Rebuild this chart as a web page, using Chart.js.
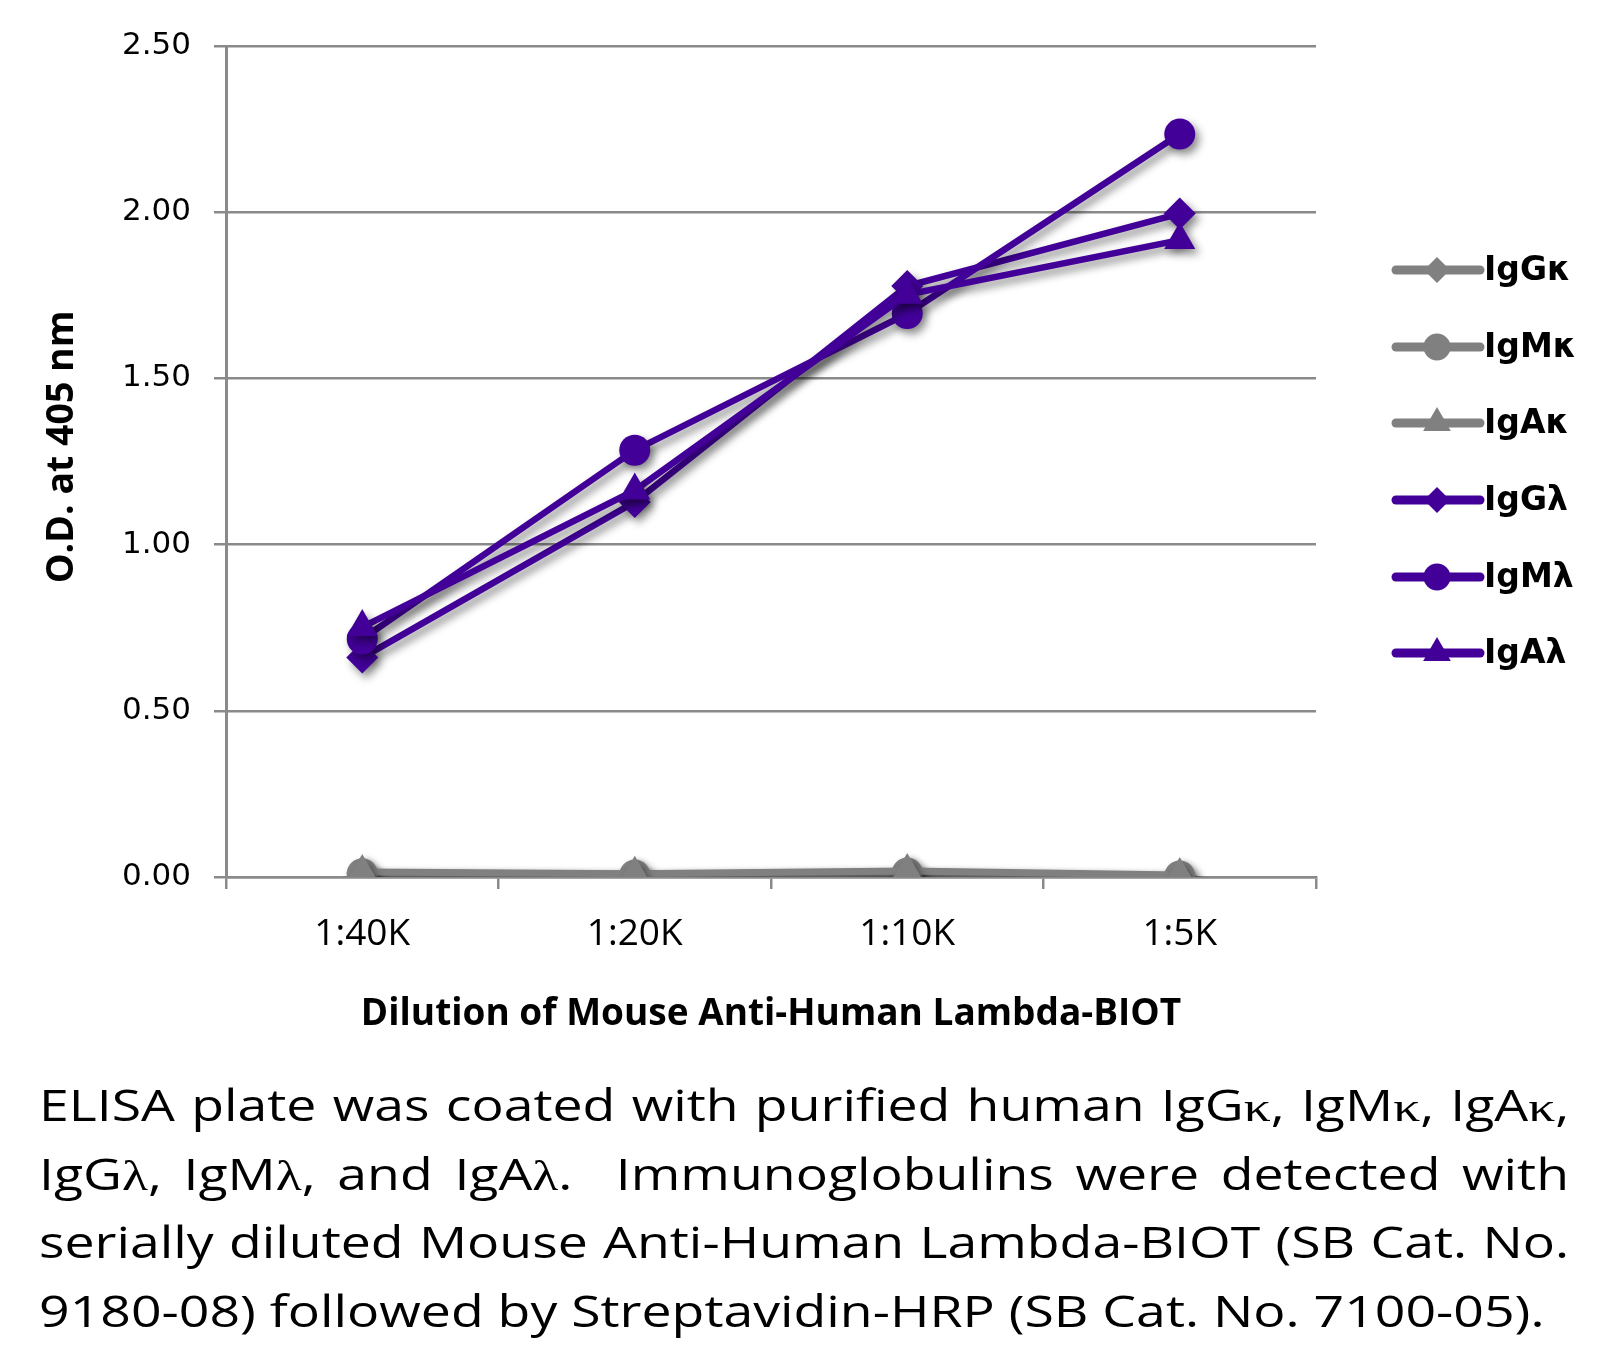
<!DOCTYPE html>
<html lang="en">
<head>
    <title>ELISA - Mouse Anti-Human Lambda-BIOT</title>
    <script src="https://cdn.jsdelivr.net/npm/chart.js"></script>
    <style>
        body { margin: 0; background: #fff; }
        #wrap { position: relative; width: 1608px; height: 1348px; }
        /* the caption font in the picture is wide, so the lines are stretched sideways */
        #caption { position: absolute; left: 39px; top: 1071px; width: 1228px;
                   transform: scaleX(1.246); transform-origin: 0 0;
                   font-family: "Open Sans", sans-serif; font-size: 43px; color: #000; }
        #caption div { line-height: 68.5px; height: 68.5px; white-space: nowrap; text-align: justify; text-align-last: justify; }
        #caption div.last { text-align-last: left; }
        .sym { font-family: "Liberation Serif", serif; }
    </style>
</head>
<body>
<div id="wrap">
    <canvas id="elisaChart" width="1608" height="1060"></canvas>
    <div id="caption">
        <div>ELISA plate was coated with purified human IgG<span class="sym">κ</span>, IgM<span class="sym">κ</span>, IgA<span class="sym">κ</span>,</div>
        <div>IgG<span class="sym">λ</span>, IgM<span class="sym">λ</span>, and IgA<span class="sym">λ</span>.&nbsp; Immunoglobulins were detected with</div>
        <div>serially diluted Mouse Anti-Human Lambda-BIOT (SB Cat. No.</div>
        <div class="last">9180-08) followed by Streptavidin-HRP (SB Cat. No. 7100-05).</div>
    </div>
</div>

<script>
    var dilutions = ['1:40K', '1:20K', '1:10K', '1:5K'];
    var seriesNames = ['IgGκ', 'IgMκ', 'IgAκ', 'IgGλ', 'IgMλ', 'IgAλ'];

    var igGkappa  = [0.012, 0.008, 0.015, 0.004];
    var igMkappa  = [0.010, 0.006, 0.012, 0.003];
    var igAkappa  = [0.015, 0.010, 0.018, 0.006];
    var igGlambda = [0.660, 1.128, 1.778, 1.996];
    var igMlambda = [0.716, 1.284, 1.695, 2.235];
    var igAlambda = [0.752, 1.163, 1.752, 1.916];

    var yTicks = [0, 0.5, 1.0, 1.5, 2.0, 2.5];

    var GRAY = '#808080';
    var PURPLE = '#420099';
    var GRID = '#8a8a8a';

    var allData = [igGkappa, igMkappa, igAkappa, igGlambda, igMlambda, igAlambda];
    var colors = [GRAY, GRAY, GRAY, PURPLE, PURPLE, PURPLE];
    var shapes = ['rectRot', 'circle', 'triangle', 'rectRot', 'circle', 'triangle'];
    var radii = { rectRot: 16, circle: 15.5, triangle: 18 };
    var legendRadii = { rectRot: 13, circle: 13.5, triangle: 16 };

    var datasets = allData.map(function(d, i) {
        return {
            label: seriesNames[i],
            data: d,
            borderColor: colors[i],
            backgroundColor: colors[i],
            borderWidth: i < 3 ? 7 : 6.5,
            pointStyle: shapes[i],
            pointRadius: radii[shapes[i]],
            pointBorderWidth: 0,
            pointBackgroundColor: colors[i],
            tension: 0,
            order: 6 - i
        };
    });

    // soft drop shadow under lines and markers, like the office chart
    var shadowPlugin = {
        id: 'shadow',
        beforeDatasetsDraw: function(chart) {
            var ctx = chart.ctx;
            ctx.save();
            ctx.shadowColor = 'rgba(0,0,0,0.45)';
            ctx.shadowBlur = 9;
            ctx.shadowOffsetX = 4;
            ctx.shadowOffsetY = 5;
        },
        afterDatasetsDraw: function(chart) {
            chart.ctx.restore();
        }
    };

    // legend on the right: line sample with marker, bold label
    var sideLegend = {
        id: 'sideLegend',
        afterDraw: function(chart) {
            var ctx = chart.ctx;
            var rows = [270, 347, 423, 500, 577, 653];
            ctx.save();
            chart.data.datasets.forEach(function(ds, i) {
                var y = rows[i];
                ctx.strokeStyle = ds.borderColor;
                ctx.lineWidth = 9;
                ctx.lineCap = 'round';
                ctx.beginPath();
                ctx.moveTo(1396, y);
                ctx.lineTo(1480, y);
                ctx.stroke();
                ctx.fillStyle = ds.backgroundColor;
                Chart.helpers.drawPoint(ctx, {
                    pointStyle: ds.pointStyle,
                    radius: legendRadii[ds.pointStyle],
                    rotation: 0,
                    borderWidth: 0
                }, 1437, y);
                ctx.fillStyle = '#000';
                ctx.font = 'bold 33px "DejaVu Sans"';
                ctx.textBaseline = 'middle';
                ctx.fillText(ds.label, 1484, y + 1);
            });
            ctx.restore();
        }
    };

    var ctx = document.getElementById('elisaChart').getContext('2d');
    var elisaChart = new Chart(ctx, {
        type: 'line',
        data: { labels: dilutions, datasets: datasets },
        options: {
            responsive: false,
            animation: false,
            layout: { padding: { left: 0, right: 292, top: 46, bottom: 23 } },
            plugins: { legend: { display: false }, tooltip: { enabled: false } },
            scales: {
                x: {
                    offset: true,
                    grid: { offset: true, drawOnChartArea: false, tickLength: 12, color: GRID, lineWidth: 2.5 },
                    border: { color: GRID, width: 2.5 },
                    ticks: { color: '#000', padding: 23, font: { family: 'Open Sans', size: 37 } },
                    title: {
                        display: true,
                        text: 'Dilution of Mouse Anti-Human Lambda-BIOT',
                        color: '#000',
                        font: { family: 'Open Sans', size: 37, weight: 'bold' },
                        padding: { top: 12, bottom: 0 }
                    },
                    afterFit: function(scale) { scale.height = 160; }
                },
                y: {
                    min: 0,
                    max: 2.5,
                    afterBuildTicks: function(scale) {
                        scale.ticks = yTicks.map(function(v) { return { value: v }; });
                    },
                    grid: { color: GRID, lineWidth: 2.5, tickLength: 12 },
                    border: { color: GRID, width: 3 },
                    ticks: {
                        color: '#000',
                        padding: 23,
                        font: { family: 'DejaVu Sans', size: 31 },
                        callback: function(v) { return Number(v).toFixed(2); }
                    },
                    title: {
                        display: true,
                        // leading spaces lift the rotated title a little, as in the picture
                        text: '   O.D. at 405 nm',
                        color: '#000',
                        font: { family: 'Open Sans', size: 37.5, weight: 'bold' },
                        padding: { top: 40, bottom: 0 }
                    },
                    afterFit: function(scale) { scale.width = 226; }
                }
            }
        },
        plugins: [shadowPlugin, sideLegend]
    });
</script>
</body>
</html>
